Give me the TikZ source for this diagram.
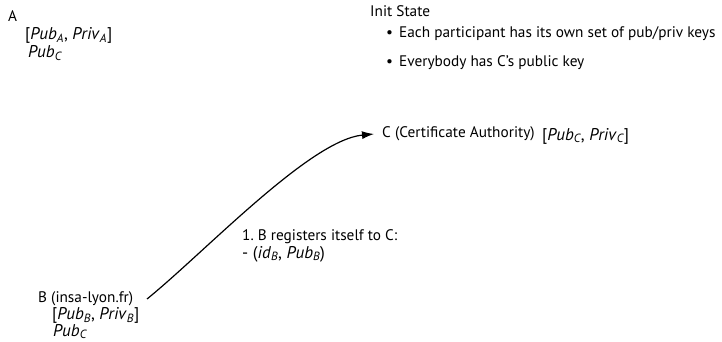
\documentclass[tikz,border=0pt]{standalone}
\usepackage{fontspec}
\setmainfont{PT Sans}
\usepackage{amsmath}
\usetikzlibrary{arrows.meta}
% italic key name with italic subscript, e.g. Pub_A
\newcommand{\keyname}[2]{\textit{#1}$_{\text{\itshape #2}}$}
\begin{document}
\begin{tikzpicture}[x=1pt,y=-1pt,
  txt/.style={inner sep=0pt, anchor=base west, font=\fontsize{15.3}{18}\selectfont},
  keys/.style={txt, font=\fontsize{17}{20}\selectfont},
  flow/.style={line width=1.2pt, -{Latex[length=12pt,width=8pt]}}]
\useasboundingbox (0,0) rectangle (722,342);

% participant A
\node[txt] (A) at (8,22) {A};
\node[keys] (Akeys) at (25,40) {[\keyname{Pub}{A}, \keyname{Priv}{A}]};
\node[keys] (Apub) at (28,58) {\keyname{Pub}{C}};

% initial state notes
\node[txt] (init) at (370,17) {Init State};
\node[txt] (b1) at (386,38) {\textbullet\hspace{6pt}Each participant has its own set of pub/priv keys};
\node[txt] (b2) at (386,67) {\textbullet\hspace{6pt}Everybody has C's public key};

% certificate authority C
\node[txt] (C) at (382,137) {C (Certificate Authority)};
\node[keys] (Ckeys) at (542,140) {[\keyname{Pub}{C}, \keyname{Priv}{C}]};

% participant B
\node[txt] (B) at (38,302) {B (insa-lyon.fr)};
\node[keys] (Bkeys) at (52,319.5) {[\keyname{Pub}{B}, \keyname{Priv}{B}]};
\node[keys] (Bpub) at (53,336) {\keyname{Pub}{C}};

% registration message
\node[txt] (m1) at (242,240) {1.\ B registers itself to C:};
\node[keys] (m2) at (242,258) {- (\keyname{id}{B}, \keyname{Pub}{B})};

% registration request from B to C
\coordinate (Bout) at (147,299);
\coordinate (Cin) at (374,134);
\draw[flow] (Bout) .. controls (205,252) and (310,140) .. (Cin);
\end{tikzpicture}
\end{document}
